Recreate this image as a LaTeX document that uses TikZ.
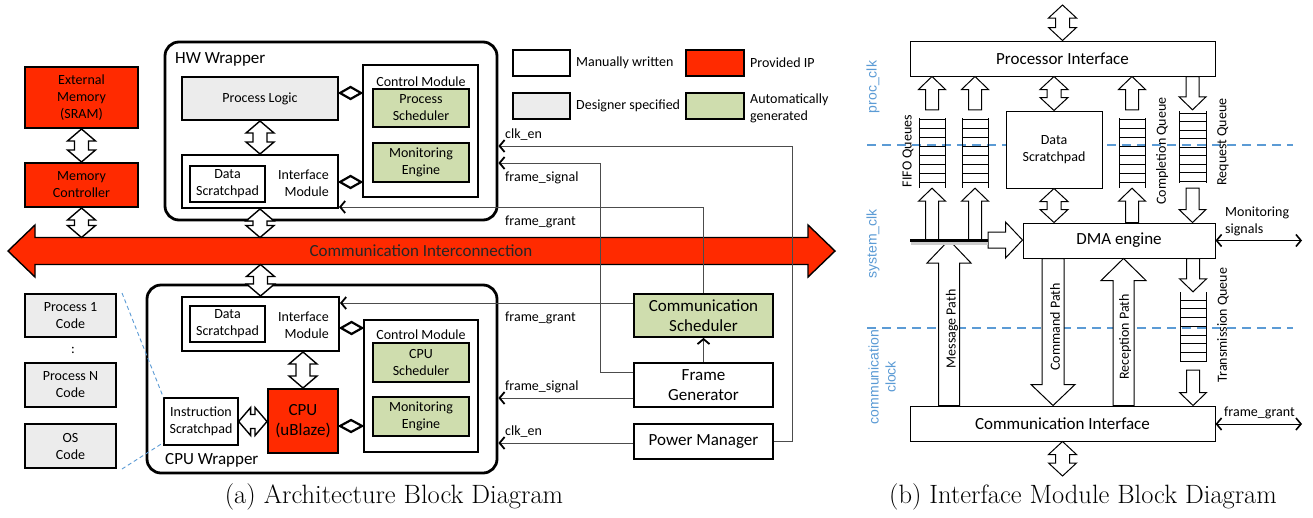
\documentclass[tikz,border=0pt]{standalone}
\usepackage{fontspec}
\newfontfamily\carl{Carlito}
\newfontfamily\arl{Liberation Sans}
\usetikzlibrary{arrows.meta,calc}
\definecolor{ipred}{RGB}{255,42,0}
\definecolor{autogreen}{RGB}{207,221,174}
\definecolor{dsgray}{RGB}{236,236,236}
\definecolor{clkblue}{RGB}{91,155,213}
\newcommand\szA{\fontsize{14}{17}\selectfont}
\newcommand\szB{\fontsize{17}{20}\selectfont}
\newcommand\bx[7]{\node[#6, minimum width={(#4-(#2))*1pt}, minimum height={(#5-(#3))*1pt}] (#1) at ({(#2+#4)/2},{(#3+#5)/2}) {#7};}
% vertical double block arrow: #2 top, #3 bottom, #4 shaft half, #5 head half, #6 head length
\newcommand\vdbl[6][blk]{\path[#1] let \p1=(#2),\p2=(#3) in (\x1,\y1) -- (\x1+#5pt,\y1-#6pt) -- (\x1+#4pt,\y1-#6pt) -- (\x1+#4pt,\y2+#6pt) -- (\x1+#5pt,\y2+#6pt) -- (\x1,\y2) -- (\x1-#5pt,\y2+#6pt) -- (\x1-#4pt,\y2+#6pt) -- (\x1-#4pt,\y1-#6pt) -- (\x1-#5pt,\y1-#6pt) -- cycle;}
% up arrow: #2 tail (bottom), #3 tip (top)
\newcommand\uparr[6][blk]{\path[#1] let \p1=(#2),\p2=(#3) in (\x1-#4pt,\y1) -- (\x1-#4pt,\y2-#6pt) -- (\x1-#5pt,\y2-#6pt) -- (\x1,\y2) -- (\x1+#5pt,\y2-#6pt) -- (\x1+#4pt,\y2-#6pt) -- (\x1+#4pt,\y1) -- cycle;}
% down arrow: #2 tail (top), #3 tip (bottom)
\newcommand\dnarr[6][blk]{\path[#1] let \p1=(#2),\p2=(#3) in (\x1-#4pt,\y1) -- (\x1-#4pt,\y2+#6pt) -- (\x1-#5pt,\y2+#6pt) -- (\x1,\y2) -- (\x1+#5pt,\y2+#6pt) -- (\x1+#4pt,\y2+#6pt) -- (\x1+#4pt,\y1) -- cycle;}
% horizontal double arrow: #2 left, #3 right
\newcommand\hdbl[6][blk]{\path[#1] let \p1=(#2),\p2=(#3) in (\x1,\y1) -- (\x1+#6pt,\y1+#5pt) -- (\x1+#6pt,\y1+#4pt) -- (\x2-#6pt,\y1+#4pt) -- (\x2-#6pt,\y1+#5pt) -- (\x2,\y1) -- (\x2-#6pt,\y1-#5pt) -- (\x2-#6pt,\y1-#4pt) -- (\x1+#6pt,\y1-#4pt) -- (\x1+#6pt,\y1-#5pt) -- cycle;}
% right arrow: #2 tail (left), #3 tip (right)
\newcommand\rtarr[6][blk]{\path[#1] let \p1=(#2),\p2=(#3) in (\x1,\y1+#4pt) -- (\x2-#6pt,\y1+#4pt) -- (\x2-#6pt,\y1+#5pt) -- (\x2,\y1) -- (\x2-#6pt,\y1-#5pt) -- (\x2-#6pt,\y1-#4pt) -- (\x1,\y1-#4pt) -- cycle;}
% small diamond connector between two points at the same height
\newcommand\diam[2]{\path[draw, line width=2.2pt, fill=white, line join=miter] let \p1=(#1),\p2=(#2) in (\x1+1pt,\y1) -- ({(\x1+\x2)/2},\y1+6pt) -- (\x2-1pt,\y1) -- ({(\x1+\x2)/2},\y1-6pt) -- cycle;}
% queue rungs
\newcommand\queue[5]{\draw[qline] (#1,#3) -- (#1,#4) (#2,#3) -- (#2,#4); \foreach \r in {#5} {\draw[qline] (#1,\r) -- (#2,\r);}}
\tikzset{
  every node/.style={font=\carl\szA, inner sep=0pt},
  bx/.style={draw, line width=2pt, align=center},
  thin bx/.style={draw, line width=1.3pt, align=center, fill=white},
  red bx/.style={bx, fill=ipred},
  green bx/.style={bx, fill=autogreen, line width=1.8pt},
  gray bx/.style={bx, fill=dsgray},
  wrap/.style={draw, line width=2.8pt, rounded corners=14pt},
  blk/.style={draw=black, line width=1.4pt, fill=white, line join=miter},
  sig/.style={draw=black!70, line width=0.9pt},
  tipb/.style={-{Straight Barb[length=5pt,width=12pt,line width=1.8pt,color=black]}},
  bbx/.style={draw, line width=1pt, fill=white, align=center},
  qline/.style={line width=1pt},
  barrow/.style={draw=black, line width=1pt, fill=white, line join=miter},
  clkline/.style={clkblue, line width=1.2pt, dash pattern=on 9pt off 6pt},
  clklab/.style={font=\arl\szA, text=clkblue, rotate=90, align=center},
  dbarb/.style={line width=1pt, {Straight Barb[length=5pt,width=12pt,line width=1.6pt]}-{Straight Barb[length=5pt,width=12pt,line width=1.6pt]}},
  captext/.style={font=\rmfamily\fontsize{26.5}{30}\selectfont},
}
\begin{document}
\begin{tikzpicture}[x=1pt,y=-1pt]
\useasboundingbox (0,0) rectangle (1313,517);
\fill[white] (0,0) rectangle (1313,517);

% ================= (a) =================
% interconnect
\coordinate (icL) at (8,251);
\coordinate (icR) at (835,251);
\coordinate (icT) at (0,237.5);
\coordinate (icB) at (0,264.5);
\hdbl[draw=black, line width=1.4pt, fill=ipred, line join=miter]{icL}{icR}{13.5}{26}{27}
\node[font=\carl\szB, text=black!85] (ict) at (421,251) {Communication Interconnection};

% memory
\bx{extmem}{25}{67}{138}{128}{red bx}{External\\Memory\\(SRAM)}
\bx{memctl}{25}{163}{138}{207}{red bx}{Memory\\Controller}

% HW wrapper
\bx{hw}{165}{42}{497}{220}{wrap}{}
\node[anchor=west, font=\carl\szB] (hwl) at (175,59) {HW Wrapper};
\bx{pl}{182}{77}{338}{120}{gray bx}{Process Logic}
\bx{hwim}{182}{155}{338}{208}{bx, fill=white}{}
\bx{hwds}{190}{166}{265}{202}{thin bx}{Data\\Scratchpad}
\node[anchor=east, align=right] (hwimt) at (329,183) {Interface\\Module};
\bx{hwcm}{363}{65}{478}{197}{thin bx, line width=1.8pt}{}
\node (hwcmt) at (421,82) {Control Module};
\bx{hwps}{373}{89}{469}{127}{green bx}{Process\\Scheduler}
\bx{hwme}{373}{143}{469}{182}{green bx}{Monitoring\\Engine}

% legend
\bx{lg1}{513}{50}{570}{76}{bx}{}
\node[anchor=west] (lg1t) at (576,63) {Manually written};
\bx{lg2}{686}{50}{744}{76}{red bx}{}
\node[anchor=west] (lg2t) at (750,63) {Provided IP};
\bx{lg3}{513}{93}{570}{119}{gray bx}{}
\node[anchor=west] (lg3t) at (576,106) {Designer specified};
\bx{lg4}{686}{93}{744}{119}{green bx}{}
\node[anchor=west, align=left] (lg4t) at (750,108) {Automatically\\generated};

% CPU wrapper
\bx{cpuw}{147}{285}{497}{473}{wrap}{}
\node[anchor=west, font=\carl\szB] (cpuwl) at (165,460) {CPU Wrapper};
\bx{cpuim}{182}{297}{339}{351}{bx}{}
\bx{cpuds}{190}{306}{265}{342}{thin bx}{Data\\Scratchpad}
\node[anchor=east, align=right] (cpuimt) at (329,325) {Interface\\Module};
\bx{cpucm}{364}{320}{478}{452}{thin bx, line width=1.8pt}{}
\node (cpucmt) at (421,335) {Control Module};
\bx{cpus}{373}{343}{469}{382}{green bx}{CPU\\Scheduler}
\bx{cpume}{373}{397}{469}{436}{green bx}{Monitoring\\Engine}
\bx{cpu}{268}{389}{338}{453}{red bx, font=\carl\szB}{CPU\\(uBlaze)}
\bx{isp}{164}{398}{238}{445}{thin bx}{Instruction\\Scratchpad}

% code boxes
\bx{p1}{25}{294}{116}{337}{gray bx}{Process 1\\Code}
\node (dots) at (73,350) {:};
\bx{pN}{25}{363}{116}{407}{gray bx}{Process N\\Code}
\bx{os}{25}{424}{116}{468}{gray bx}{OS\\Code}
\draw[clkblue, line width=0.9pt, dash pattern=on 4pt off 3pt] ([xshift=5pt]p1.north east) -- (isp.north west);
\draw[clkblue, line width=0.9pt, dash pattern=on 4pt off 3pt] ([xshift=5pt]os.south east) -- ([yshift=3pt]isp.south west);

% schedulers
\bx{cs}{634}{294}{773}{337}{green bx, font=\carl\szB}{Communication\\Scheduler}
\bx{fg}{634}{363}{773}{407}{bx, font=\carl\szB}{Frame\\Generator}
\bx{pm}{634}{424}{773}{459}{bx, font=\carl\szB}{Power Manager}

% block arrows (a)
\vdbl{extmem.south}{memctl.north}{7}{14}{12}
\vdbl{memctl.south}{memctl.south |- icT}{7}{14}{12}
\vdbl{pl.south}{hwim.north}{7}{14}{12}
\vdbl{hwim.south}{hwim.south |- icT}{7}{14}{12}
\vdbl{cpuim.north |- icB}{cpuim.north}{7}{14}{12}
\vdbl{cpu.north |- cpuim.south}{cpu.north}{7}{14}{12}
\hdbl{isp.east}{cpu.west |- isp.east}{7}{14}{12}

% diamonds
\coordinate (d1) at (0,93);
\coordinate (d2) at (0,182);
\coordinate (d3) at (0,328);
\coordinate (d4) at (0,426);
\diam{pl.east |- d1}{hwcm.west |- d1}
\diam{hwim.east |- d2}{hwcm.west |- d2}
\diam{cpuim.east |- d3}{cpucm.west |- d3}
\diam{cpu.east |- d4}{cpucm.west |- d4}

% signals
\coordinate (clkC) at (792,146);
\coordinate (fsC) at (600,163);
\coordinate (fsY) at (0,372);
\coordinate (fgT) at (0,207);
\coordinate (fgB) at (0,303);
\coordinate (fsB) at (0,398);
\coordinate (clkB) at (0,443);
\draw[sig,tipb] (pm.east) -| (clkC) -- (hw.east |- clkC);
\draw[sig,tipb] (fg.west |- fsY) -| (fsC) -- (hw.east |- fsC);
\draw[sig,tipb] (cs.north) |- (hwim.east |- fgT);
\draw[sig,tipb] (cs.west |- fgB) -- (cpuim.east |- fgB);
\draw[sig,tipb] (fg.west |- fsB) -- (cpuw.east |- fsB);
\draw[sig,tipb] (pm.west |- clkB) -- (cpuw.east |- clkB);
\draw[sig,line width=1.2pt,tipb] (fg.north) -- (cs.south);

\node[anchor=west] (l1) at (505,135) {clk\_en};
\node[anchor=west] (l2) at (505,178) {frame\_signal};
\node[anchor=west] (l3) at (505,222) {frame\_grant};
\node[anchor=west] (l4) at (505,318) {frame\_grant};
\node[anchor=west] (l5) at (505,387) {frame\_signal};
\node[anchor=west] (l6) at (505,432) {clk\_en};

\node[captext] (capa) at (394,497) {(a) Architecture Block Diagram};

% ================= (b) =================
\draw[clkline] (867,145) -- (1293,145);
\draw[clkline] (867,328) -- (1293,328);
\node[clklab] (lpc) at (873,87) {proc\_clk};
\node[clklab] (lsc) at (873,244) {system\_clk};
\node[clklab] (lcc) at (882,377) {communication\\clock};

\coordinate (piTop) at (1062.5,5);
\coordinate (ciBot) at (1062.5,476);
\bx{pi}{910}{41}{1215}{76}{bbx, font=\carl\szB}{Processor Interface}
\bx{ds}{1006}{111}{1102}{188}{bbx}{Data\\Scratchpad}
\bx{dma}{1023}{223}{1215}{258}{bbx, font=\carl\szB}{DMA engine}
\bx{ci}{910}{406}{1215}{441}{bbx, font=\carl\szB}{Communication Interface}

\bx{fifo1}{919}{118}{945}{188}{}{}
\bx{fifo2}{962}{118}{988}{188}{}{}
\bx{cq}{1119}{118}{1145}{188}{}{}
\bx{rq}{1179}{111}{1206}{183}{}{}
\bx{tq}{1180}{292}{1206}{362}{}{}
\queue{919}{945}{118}{188}{119,128,...,182}
\queue{962}{988}{118}{188}{119,128,...,182}
\queue{1119}{1145}{118}{188}{119,128,...,182}
\queue{1179}{1206}{111}{183}{113,121.5,...,181}
\queue{1180}{1206}{292}{362}{300,308.75,...,362}

\coordinate (busL) at (910,240);
\coordinate (busR) at (988,240);
\coordinate (msg) at (949,240);
\coordinate (cmdx) at (1053,0);
\coordinate (rcx) at (1123.5,0);

\vdbl[barrow]{piTop}{pi.north}{7}{14}{13}
\vdbl[barrow]{ci.south}{ciBot}{7}{14}{13}
\uparr[barrow]{[yshift=8pt]fifo1.north}{fifo1.north |- pi.south}{6.5}{13.5}{13}
\uparr[barrow]{[yshift=8pt]fifo2.north}{fifo2.north |- pi.south}{6.5}{13.5}{13}
\vdbl[barrow]{ds.north |- pi.south}{ds.north}{7}{14}{13}
\uparr[barrow]{[yshift=8pt]cq.north}{cq.north |- pi.south}{6.5}{13.5}{13}
\dnarr[barrow]{rq.north |- pi.south}{[yshift=1pt]rq.north}{6.5}{13.5}{13}
\uparr[barrow]{fifo1.south |- busL}{fifo1.south}{6.5}{13.5}{13}
\uparr[barrow]{fifo2.south |- busL}{fifo2.south}{6.5}{13.5}{13}
\vdbl[barrow]{ds.south}{ds.south |- dma.north}{7}{14}{13}
\uparr[barrow]{cq.south |- dma.north}{cq.south}{6.5}{13.5}{13}
\dnarr[barrow]{[yshift=-5pt]rq.south}{rq.south |- dma.north}{6.5}{13.5}{13}
\rtarr[barrow]{busR}{dma.west |- busR}{8}{18}{17}
\uparr[barrow]{msg |- ci.north}{msg}{10.5}{22}{23}
\dnarr[barrow]{cmdx |- dma.south}{cmdx |- ci.north}{11}{22}{21}
\uparr[barrow]{rcx |- ci.north}{rcx |- dma.south}{10.5}{22.5}{22}
\dnarr[barrow]{tq.north |- dma.south}{tq.north}{6.5}{13.5}{13}
\dnarr[barrow]{[yshift=-8pt]tq.south}{tq.south |- ci.north}{6.5}{13.5}{13}
\draw[line width=3pt, black!20] (911,243) -- (988,243);
\draw[line width=3pt] (busL) -- (busR);

\node[rotate=90] (tfifo) at (908,151) {FIFO Queues};
\node[rotate=90] (tcq) at (1162,151) {Completion Queue};
\node[rotate=90] (trq) at (1223,142) {Request Queue};
\node[rotate=90] (ttq) at (1223,325) {Transmission Queue};
\node[rotate=90] (tmp) at (952,329) {Message Path};
\node[rotate=90] (tcp) at (1055,327) {Command Path};
\node[rotate=90] (trp) at (1125,337) {Reception Path};

\coordinate (monEnd) at (1302,240.5);
\coordinate (fgEnd) at (1302,424);
\draw[dbarb] (dma.east) -- (monEnd);
\draw[dbarb] (ci.east |- fgEnd) -- (fgEnd);
\node[anchor=west, align=left] (tmon) at (1225,221) {Monitoring\\signals};
\node[anchor=west] (tfg) at (1224,413) {frame\_grant};

\node[captext] (capb) at (1083,497) {(b) Interface Module Block Diagram};
\end{tikzpicture}
\end{document}
